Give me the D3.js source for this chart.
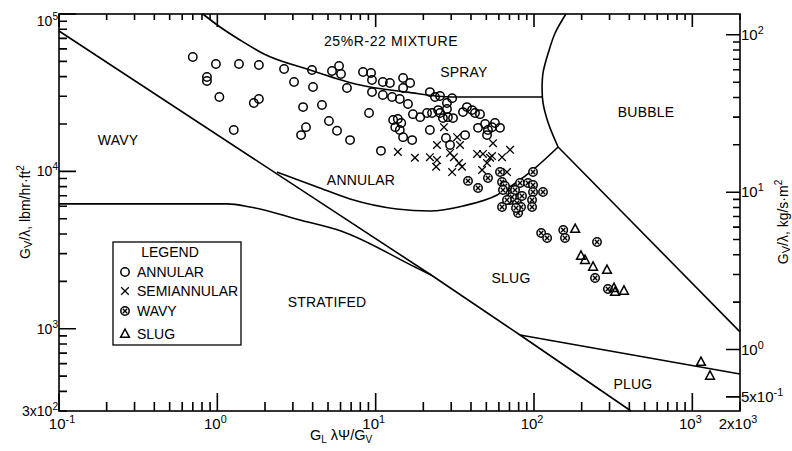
<!DOCTYPE html>
<html>
<head>
<meta charset="utf-8">
<script src="https://cdn.jsdelivr.net/npm/d3@7"></script>
<style>
  body { margin: 0; background: #fff; }
  svg text { font-family: "Liberation Sans", Arial, Helvetica, sans-serif; fill: #000; }
</style>
</head>
<body>
<svg id="chart" width="792" height="451"></svg>
<script>
// Observed flow patterns: [GL·λΨ/GV, GV/λ in lbm/hr·ft²]
const annular = [
  [0.70,53300],[0.98,48100],[1.37,48100],[1.83,47400],[0.86,39800],[0.86,37500],[1.03,29700],[1.70,27200],[1.83,28800],[1.27,18300],
  [2.64,44700],[3.96,44100],[5.30,43400],[5.87,46700],[6.04,41600],[3.05,37000],[4.02,34400],[6.59,33900],[3.48,25600],[4.58,26400],
  [3.63,19100],[3.38,17000],[5.07,20900],[5.70,18100],[6.89,15800],[10.8,13500],
  [8.32,42800],[9.35,42200],[9.48,38100],[11.1,37000],[12.3,36400],[14.9,39200],[16.5,36400],[14.9,33900],
  [9.48,31900],[11.1,30600],[12.7,29700],[14.2,28800],[16.0,26800],
  [22.0,31900],[23.7,29700],[25.5,30100],[30.4,29200],[28.2,27200],
  [9.08,23500],[12.9,21200],[13.8,21500],[14.5,20300],[13.3,19100],[14.2,18300],[14.9,16500],[17.0,15800],
  [17.2,23100],[19.1,22100],[21.1,23500],[22.7,23500],[25.5,23500],[26.6,21800],[28.6,22100],[30.8,21800],[24.8,24500],[28.2,24900],
  [22.0,18300],[27.8,16300],[29.5,14700],
  [35.6,23800],[37.7,25600],[40.6,24500],[42.4,23500],[45.6,23100],[44.3,18900],[49.1,20000],[54.3,19100],[56.7,20300],[61.0,18900],
  [51.2,18300],[50.5,17000],[36.7,17000]
];
const semiannular = [
  [13.8,13300],[17.7,12200],[22.0,12300],[24.4,11800],[24.1,10700],[27.0,19100],[24.4,14700],[29.5,13100],[31.2,12300],[30.4,9900],
  [33.6,11300],[35.1,10700],[32.7,16500],[34.1,14700],[43.7,12900],[47.6,12900],[54.3,12500],[62.8,12300],[70.6,13700],[47.0,10200],
  [50.5,11300],[52.8,12200],[55.1,15100],[67.5,9900]
];
const wavy = [
  [38.3,8700],[44.3,7840],[51.2,9080],[61.0,9900],[62.8,8560],[68.5,7610],[62.8,5940],[73.7,7290],[70.6,6580],[78.1,6300],
  [79.3,5440],[81.6,8430],[91.7,8430],[98.6,9900],[98.6,8190],[98.6,7390],[97.2,6580],[97.2,5940],[114,7390],[111,4060],
  [121,3770],[153,4240],[157,3770],[250,3560],[243,2100],[293,1790],
  [65.6,8070],[72.6,6870],[75.9,7610],[82.8,5940],[84.0,6970],[67.5,6580],[77.0,5850],[63.7,7610]
];
const slug = [
  [182,4300],[198,2900],[210,2730],[236,2470],[289,2360],[325,1710],[320,1810],[370,1740],[1134,614],[1293,501]
];

// Flow-regime boundaries
const wavySlugLine = [[0.1,78000],[22.4,2194],[81.6,912],[410,300]];
const stratifiedLine = [[0.1,6210],[1.15,6210],[1.61,5940],[3.33,4910],[6.04,4180],[18.2,2430],[22.4,2194]];
const plugLine = [[81.6,912],[2000,516]];
const annularLine = [[2.38,9910],[4.27,7960],[6.89,6680],[13.6,5770],[22.1,5600],[35.7,6030],[58.5,7080],[78.1,8560],[101.5,10500],[142,14290]];
const sprayLine = [[0.81,100000],[1.04,82700],[1.39,68400],[1.97,55700],[3.85,44100],[7.97,35400],[15.8,31900],[30.4,29700],[112.5,29700]];
const bubbleLine = [[159,100000],[136,75700],[123,56500],[114,42200],[112.5,32900],[114,27200],[123,20300],[142,14290]];
const bubbleSlugLine = [[142,14290],[2000,955]];

// Regime names and where they sit, in chart units
const regionNames = ["WAVY","25%R-22 MIXTURE","SPRAY","BUBBLE","ANNULAR","SLUG","STRATIFED","PLUG"];
const regionAt = [[0.236,14700],[12.5,62700],[36.1,39800],[510,22100],[8.08,8190],[71.6,1950],[4.93,1375],[422,414]];

// Axis ticks and labels
const xLabelValues = [0.1, 1, 10, 100, 1000, 2000];
const xLabels = [["10","-1"],["10","0"],["10","1"],["10","2"],["10","3"],["2x10","3"]];
const yLabelValues = [100000, 10000, 1000, 300];
const yLabels = [["10","5"],["10","4"],["10","3"],["3x10","2"]];
const y2LabelValues = [100, 10, 1, 0.5];
const y2Labels = [["10","2"],["10","1"],["10","0"],["5x10","-1"]];
const LBM_TO_KG = 0.0013562;   // lbm/hr·ft² -> kg/s·m²

const legendNames = ["ANNULAR","SEMIANNULAR","WAVY","SLUG"];

// ---------------------------------------------------------------
const svg = d3.select("#chart");
const L = 59, R = 740, T = 14, B = 411;
const x = d3.scaleLog().domain([0.1, 2000]).range([L, R]);
const y = d3.scaleLog().domain([300, 100000]).range([B, T]);
const y2 = d3.scaleLog().domain([300 * LBM_TO_KG, 100000 * LBM_TO_KG]).range([B, T]);

function decadeTicks(lo, hi, mults) {
  const out = [];
  for (let k = -3; k <= 6; k++) for (const m of mults) {
    const v = m * Math.pow(10, k);
    if (v >= lo * 0.9999 && v <= hi * 1.0001) out.push(+v.toPrecision(6));
  }
  return out;
}
const minorM = [2,3,4,5,6,7,8,9];
const xMinor = decadeTicks(0.1, 2000, minorM);
const xMajor = decadeTicks(0.1, 2000, [1]);
const yMinor = decadeTicks(300, 100000, minorM);
const yMajor = decadeTicks(300, 100000, [1]);
const y2Minor = decadeTicks(1, 100 * 1.3, minorM);
const y2Major = [0.5, 1, 10, 100];

// inward tick marks on all four sides, one path per set
const tickPaths = [
  xMinor.map(v => `M${x(v)},${B}v-9`),
  xMajor.map(v => `M${x(v)},${B}v-18`),
  xMinor.map(v => `M${x(v)},${T}v6`),
  xMajor.map(v => `M${x(v)},${T}v13`),
  yMinor.map(v => `M${L},${y(v)}h8`),
  yMajor.map(v => `M${L},${y(v)}h17`),
  y2Minor.map(v => `M${R},${y2(v)}h-7`),
  y2Major.map(v => `M${R},${y2(v)}h-14`)
];
const tk = svg.append("g");
tickPaths.forEach(p => tk.append("path").attr("d", p.join(""))
  .attr("fill", "none").attr("stroke", "#000").attr("stroke-width", 1.6));

// frame
svg.append("rect").attr("x", L).attr("y", T).attr("width", R - L).attr("height", B - T)
  .attr("fill", "none").attr("stroke", "#000").attr("stroke-width", 1.6);

function powLabel(g, px, py, parts, anchor, size) {
  const t = g.append("text").attr("x", px).attr("y", py).attr("text-anchor", anchor)
    .attr("font-size", size);
  t.append("tspan").text(parts[0]);
  t.append("tspan").attr("dy", -6).attr("font-size", size * 0.72).text(parts[1]);
  return t;
}
const labels = svg.append("g");
xLabelValues.forEach((v, i) => powLabel(labels, Math.max(x(v) - 2, 62), 429, xLabels[i], "middle", 15));
yLabelValues.forEach((v, i) => powLabel(labels, 58, Math.max(y(v) + 5, 26), yLabels[i], "end", 14));
y2LabelValues.forEach((v, i) => powLabel(labels, 741, y2(v) + 5, y2Labels[i], "start", 15));

// axis titles
const xt = svg.append("text").attr("x", 341).attr("y", 440).attr("text-anchor", "middle").attr("font-size", 14.5);
xt.append("tspan").text("G");
xt.append("tspan").attr("dy", 3).attr("font-size", 10).text("L");
xt.append("tspan").attr("dy", -3).text(" λΨ/G");
xt.append("tspan").attr("dy", 3).attr("font-size", 10).text("V");

function sideTitle(cx, cy, unit) {
  const t = svg.append("text").attr("transform", `translate(${cx},${cy}) rotate(-90)`)
    .attr("text-anchor", "middle").attr("font-size", 14);
  t.append("tspan").text("G");
  t.append("tspan").attr("dy", 2).attr("font-size", 11).text("V");
  t.append("tspan").attr("dy", -2).text("/λ, " + unit[0]);
  t.append("tspan").attr("dy", -6).attr("font-size", 10).text(unit[1]);
}
sideTitle(30, 212, ["lbm/hr·ft", "2"]);
sideTitle(788, 222, ["kg/s·m", "2"]);

// boundaries
const lineGen = (curve) => d3.line().x(d => x(d[0])).y(d => y(d[1])).curve(curve);
const bounds = svg.append("g").attr("fill", "none").attr("stroke", "#000").attr("stroke-width", 1.6);
bounds.append("path").attr("d", lineGen(d3.curveLinear)(wavySlugLine));
bounds.append("path").attr("d", lineGen(d3.curveMonotoneX)(stratifiedLine));
bounds.append("path").attr("d", lineGen(d3.curveLinear)(plugLine));
bounds.append("path").attr("d", lineGen(d3.curveMonotoneX)(annularLine));
bounds.append("path").attr("d", lineGen(d3.curveMonotoneX)(sprayLine));
bounds.append("path").attr("d", lineGen(d3.curveCatmullRom.alpha(0.5))(bubbleLine));
bounds.append("path").attr("d", lineGen(d3.curveLinear)(bubbleSlugLine));

// regime names
regionNames.forEach((name, i) => {
  svg.append("text").attr("x", x(regionAt[i][0])).attr("y", y(regionAt[i][1]))
    .attr("text-anchor", "middle").attr("font-size", 14)
    .attr("letter-spacing", name.length > 10 ? 0.6 : 0.2).text(name);
});

// marker shapes
const sym = {
  annular(g) { g.append("circle").attr("r", 4.2).attr("fill", "none").attr("stroke", "#000").attr("stroke-width", 1.5); },
  semiannular(g) { g.append("path").attr("d", "M-3.8,-3.8L3.8,3.8M-3.8,3.8L3.8,-3.8").attr("stroke", "#000").attr("stroke-width", 1.3); },
  wavy(g) {
    g.append("circle").attr("r", 4.2).attr("fill", "#fff").attr("stroke", "#000").attr("stroke-width", 1.5);
    g.append("path").attr("d", "M-2.2,-2.2L2.2,2.2M-2.2,2.2L2.2,-2.2").attr("stroke", "#000").attr("stroke-width", 1.4);
  },
  slug(g) { g.append("path").attr("d", "M0,-5L4.4,3.3L-4.4,3.3Z").attr("fill", "none").attr("stroke", "#000").attr("stroke-width", 1.5); }
};
function plot(data, shape) {
  const g = svg.append("g");
  data.forEach(d => {
    const m = g.append("g").attr("transform", `translate(${x(d[0])},${y(d[1])})`);
    sym[shape](m);
  });
}
plot(annular, "annular");
plot(semiannular, "semiannular");
plot(wavy, "wavy");
plot(slug, "slug");

// legend
const lg = svg.append("g");
lg.append("rect").attr("x", 113).attr("y", 242).attr("width", 128).attr("height", 103)
  .attr("fill", "#fff").attr("stroke", "#000").attr("stroke-width", 1.3);
lg.append("text").attr("x", 170).attr("y", 257).attr("text-anchor", "middle").attr("font-size", 14).text("LEGEND");
const shapes = ["annular", "semiannular", "wavy", "slug"];
const rowY = [277, 296, 316, 339];
legendNames.forEach((name, i) => {
  const m = lg.append("g").attr("transform", `translate(125,${rowY[i] - 5})`);
  sym[shapes[i]](m);
  lg.append("text").attr("x", 137).attr("y", rowY[i]).attr("font-size", 14).text(name);
});
</script>
</body>
</html>
